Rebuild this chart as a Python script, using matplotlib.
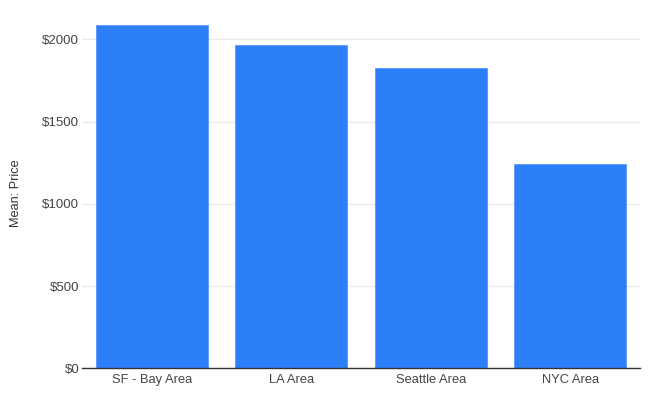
import matplotlib
matplotlib.use("Agg")
import matplotlib.pyplot as plt
from matplotlib.ticker import FuncFormatter

categories = ["SF - Bay Area", "LA Area", "Seattle Area", "NYC Area"]
mean_price = [2087, 1963, 1824, 1240]
y_ticks = [0, 500, 1000, 1500, 2000]

plt.rcParams['font.family'] = ['Liberation Sans', 'DejaVu Sans']

W, H = 651, 398
fig = plt.figure(figsize=(W / 100, H / 100), dpi=100)
ax_l, ax_r, ax_b, ax_t = 82, 640, 368.3, 6.4
ax = fig.add_axes([ax_l / W, (H - ax_b) / H, (ax_r - ax_l) / W, (ax_b - ax_t) / H])

x = list(range(len(categories)))
ax.bar(x, mean_price, width=0.8, color="#2D7FF9", edgecolor="#5A9AFA", linewidth=0.6, zorder=3)

ax.set_xlim(-0.5, len(categories) - 0.5)
ax.set_ylim(0, 2200)
ax.set_yticks(y_ticks)
ax.yaxis.set_major_formatter(FuncFormatter(lambda v, p: f"${int(v)}"))
ax.set_xticks(x)
ax.set_xticklabels(categories)

ax.grid(axis="y", color="#ebebeb", linewidth=1, zorder=0)
ax.tick_params(axis="y", length=0, pad=2, labelsize=9.5, labelcolor="#444444")
ax.tick_params(axis="x", length=0, pad=4, labelsize=9.3, labelcolor="#444444")

for s in ["top", "right", "left"]:
    ax.spines[s].set_visible(False)
ax.spines["bottom"].set_color("#333333")
ax.spines["bottom"].set_linewidth(1)
ax.spines["bottom"].set_zorder(4)

ax.set_ylabel("Mean: Price", fontsize=9.2, color="#333333")
ax.yaxis.set_label_coords((21.5 - ax_l) / (ax_r - ax_l), (ax_b - 193) / (ax_b - ax_t))

fig.savefig("out.png", dpi=100, facecolor="white")
